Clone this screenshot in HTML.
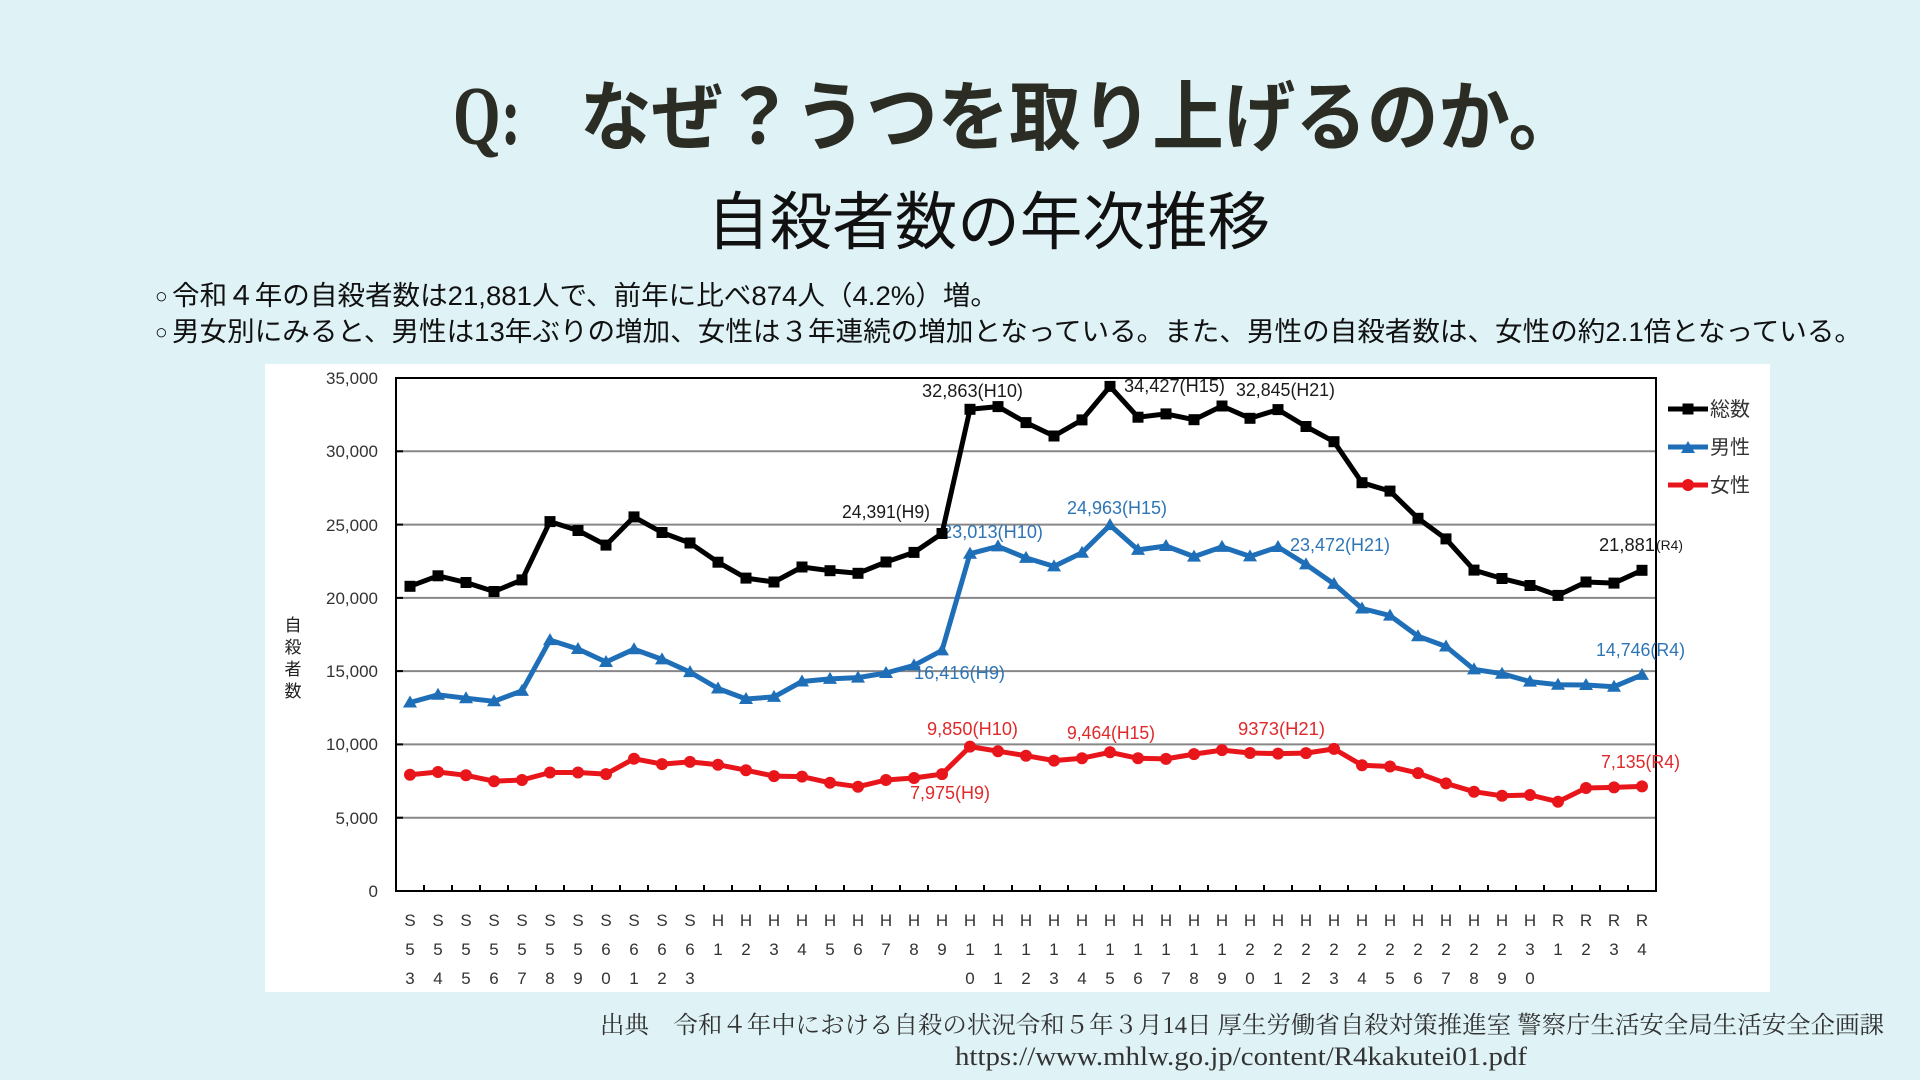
<!DOCTYPE html>
<html lang="ja">
<head>
<meta charset="utf-8">
<style>
html,body{margin:0;padding:0;background:#dff3f7;}
svg{display:block;}
</style>
</head>
<body>
<svg width="1920" height="1080" viewBox="0 0 1920 1080" xmlns="http://www.w3.org/2000/svg">
<defs>
<marker id="sq" markerWidth="12" markerHeight="12" refX="6" refY="6" markerUnits="userSpaceOnUse"><rect x="0.5" y="0.5" width="11" height="11" fill="#000"/></marker>
<marker id="tri" markerWidth="15" markerHeight="13" refX="7.5" refY="7.5" markerUnits="userSpaceOnUse"><path d="M0.5,12.5 L7.5,0.5 L14.5,12.5 Z" fill="#1f6fb8"/></marker>
<marker id="cir" markerWidth="13" markerHeight="13" refX="6.5" refY="6.5" markerUnits="userSpaceOnUse"><circle cx="6.5" cy="6.5" r="6" fill="#e8151b"/></marker>
</defs>
<rect x="0" y="0" width="1920" height="1080" fill="#dff3f7"/>

<!-- Title -->
<text x="453" y="144" font-family="'Liberation Serif', serif" font-weight="bold" font-size="84" fill="#2b2d24" textLength="68" lengthAdjust="spacingAndGlyphs">Q:</text>
<text x="580" y="144" font-family="'Liberation Sans', 'Noto Sans CJK JP', sans-serif" font-weight="bold" font-size="76" fill="#2b2d24" textLength="1000" lengthAdjust="spacingAndGlyphs">なぜ？うつを取り上げるのか。</text>

<!-- Subtitle -->
<text x="707" y="244" font-family="'Liberation Sans', 'Noto Sans CJK JP', sans-serif" font-size="63" fill="#111" textLength="563" lengthAdjust="spacingAndGlyphs">自殺者数の年次推移</text>

<!-- Body lines -->
<text x="155" y="303" font-family="'Liberation Sans', 'Noto Sans CJK JP', sans-serif" font-size="21" fill="#111">○</text>
<text x="172" y="305" font-family="'Liberation Sans', 'Noto Sans CJK JP', sans-serif" font-size="27" fill="#111" textLength="826" lengthAdjust="spacingAndGlyphs">令和４年の自殺者数は21,881人で、前年に比べ874人（4.2%）増。</text>
<text x="155" y="339" font-family="'Liberation Sans', 'Noto Sans CJK JP', sans-serif" font-size="21" fill="#111">○</text>
<text x="172" y="341" font-family="'Liberation Sans', 'Noto Sans CJK JP', sans-serif" font-size="27" fill="#111" textLength="1690" lengthAdjust="spacingAndGlyphs">男女別にみると、男性は13年ぶりの増加、女性は３年連続の増加となっている。また、男性の自殺者数は、女性の約2.1倍となっている。</text>

<!-- Chart panel -->
<rect x="265" y="364" width="1505" height="628" fill="#ffffff"/>

<!-- gridlines -->
<g stroke="#878787" stroke-width="2">
<line x1="396" y1="817.7" x2="1656" y2="817.7"/>
<line x1="396" y1="744.4" x2="1656" y2="744.4"/>
<line x1="396" y1="671.1" x2="1656" y2="671.1"/>
<line x1="396" y1="597.9" x2="1656" y2="597.9"/>
<line x1="396" y1="524.6" x2="1656" y2="524.6"/>
<line x1="396" y1="451.3" x2="1656" y2="451.3"/>
</g>
<!-- plot border -->
<rect x="396" y="378" width="1260" height="513" fill="none" stroke="#000" stroke-width="2"/>
<!-- left ticks -->
<g stroke="#000" stroke-width="2">
<line x1="396" y1="817.7" x2="403" y2="817.7"/>
<line x1="396" y1="744.4" x2="403" y2="744.4"/>
<line x1="396" y1="671.1" x2="403" y2="671.1"/>
<line x1="396" y1="597.9" x2="403" y2="597.9"/>
<line x1="396" y1="524.6" x2="403" y2="524.6"/>
<line x1="396" y1="451.3" x2="403" y2="451.3"/>
</g>
<!-- bottom ticks -->
<g stroke="#000" stroke-width="2">
<line x1="424" y1="891" x2="424" y2="885"/><line x1="452" y1="891" x2="452" y2="885"/><line x1="480" y1="891" x2="480" y2="885"/><line x1="508" y1="891" x2="508" y2="885"/><line x1="536" y1="891" x2="536" y2="885"/><line x1="564" y1="891" x2="564" y2="885"/><line x1="592" y1="891" x2="592" y2="885"/><line x1="620" y1="891" x2="620" y2="885"/><line x1="648" y1="891" x2="648" y2="885"/><line x1="676" y1="891" x2="676" y2="885"/><line x1="704" y1="891" x2="704" y2="885"/><line x1="732" y1="891" x2="732" y2="885"/><line x1="760" y1="891" x2="760" y2="885"/><line x1="788" y1="891" x2="788" y2="885"/><line x1="816" y1="891" x2="816" y2="885"/><line x1="844" y1="891" x2="844" y2="885"/><line x1="872" y1="891" x2="872" y2="885"/><line x1="900" y1="891" x2="900" y2="885"/><line x1="928" y1="891" x2="928" y2="885"/><line x1="956" y1="891" x2="956" y2="885"/><line x1="984" y1="891" x2="984" y2="885"/><line x1="1012" y1="891" x2="1012" y2="885"/><line x1="1040" y1="891" x2="1040" y2="885"/><line x1="1068" y1="891" x2="1068" y2="885"/><line x1="1096" y1="891" x2="1096" y2="885"/><line x1="1124" y1="891" x2="1124" y2="885"/><line x1="1152" y1="891" x2="1152" y2="885"/><line x1="1180" y1="891" x2="1180" y2="885"/><line x1="1208" y1="891" x2="1208" y2="885"/><line x1="1236" y1="891" x2="1236" y2="885"/><line x1="1264" y1="891" x2="1264" y2="885"/><line x1="1292" y1="891" x2="1292" y2="885"/><line x1="1320" y1="891" x2="1320" y2="885"/><line x1="1348" y1="891" x2="1348" y2="885"/><line x1="1376" y1="891" x2="1376" y2="885"/><line x1="1404" y1="891" x2="1404" y2="885"/><line x1="1432" y1="891" x2="1432" y2="885"/><line x1="1460" y1="891" x2="1460" y2="885"/><line x1="1488" y1="891" x2="1488" y2="885"/><line x1="1516" y1="891" x2="1516" y2="885"/><line x1="1544" y1="891" x2="1544" y2="885"/><line x1="1572" y1="891" x2="1572" y2="885"/><line x1="1600" y1="891" x2="1600" y2="885"/><line x1="1628" y1="891" x2="1628" y2="885"/>
</g>

<!-- y tick labels -->
<g font-family="'Liberation Sans', sans-serif" font-size="17" fill="#333" text-anchor="end">
<text x="378" y="384">35,000</text>
<text x="378" y="457">30,000</text>
<text x="378" y="531">25,000</text>
<text x="378" y="604">20,000</text>
<text x="378" y="677">15,000</text>
<text x="378" y="750">10,000</text>
<text x="378" y="824">5,000</text>
<text x="378" y="897">0</text>
</g>

<!-- y axis title -->
<g font-family="'Liberation Sans', 'Noto Sans CJK JP', sans-serif" font-size="17" fill="#222" text-anchor="middle">
<text x="293" y="631">自</text>
<text x="293" y="653">殺</text>
<text x="293" y="675">者</text>
<text x="293" y="697">数</text>
</g>

<!-- x labels -->
<g font-family="'Liberation Sans', sans-serif" font-size="17" fill="#333" text-anchor="middle">
<text y="926" x="410 438 466 494 522 550 578 606 634 662 690 718 746 774 802 830 858 886 914 942 970 998 1026 1054 1082 1110 1138 1166 1194 1222 1250 1278 1306 1334 1362 1390 1418 1446 1474 1502 1530 1558 1586 1614 1642">SSSSSSSSSSSHHHHHHHHHHHHHHHHHHHHHHHHHHHHHHRRRR</text>
<text y="955" x="410 438 466 494 522 550 578 606 634 662 690 718 746 774 802 830 858 886 914 942 970 998 1026 1054 1082 1110 1138 1166 1194 1222 1250 1278 1306 1334 1362 1390 1418 1446 1474 1502 1530 1558 1586 1614 1642">555555566661234567891111111111222222222231234</text>
<text y="984" x="410 438 466 494 522 550 578 606 634 662 690">34567890123</text>
<text y="984" x="970 998 1026 1054 1082 1110 1138 1166 1194 1222 1250 1278 1306 1334 1362 1390 1418 1446 1474 1502 1530">012345678901234567890</text>
</g>

<!-- annotations -->
<g font-family="'Liberation Sans', sans-serif" font-size="18">
<text x="842" y="518" fill="#1a1a1a" textLength="88" lengthAdjust="spacingAndGlyphs">24,391(H9)</text>
<text x="922" y="397" fill="#1a1a1a" textLength="101" lengthAdjust="spacingAndGlyphs">32,863(H10)</text>
<text x="1124" y="392" fill="#1a1a1a" textLength="101" lengthAdjust="spacingAndGlyphs">34,427(H15)</text>
<text x="1236" y="396" fill="#1a1a1a" textLength="99" lengthAdjust="spacingAndGlyphs">32,845(H21)</text>
<text x="1599" y="551" fill="#1a1a1a" textLength="56" lengthAdjust="spacingAndGlyphs">21,881</text>
<text x="1656" y="550" fill="#1a1a1a" font-size="14" textLength="27" lengthAdjust="spacingAndGlyphs">(R4)</text>

<text x="942" y="538" fill="#2e75b6" textLength="101" lengthAdjust="spacingAndGlyphs">23,013(H10)</text>
<text x="1067" y="514" fill="#2e75b6" textLength="100" lengthAdjust="spacingAndGlyphs">24,963(H15)</text>
<text x="1290" y="551" fill="#2e75b6" textLength="100" lengthAdjust="spacingAndGlyphs">23,472(H21)</text>
<text x="914" y="679" fill="#2e75b6" textLength="91" lengthAdjust="spacingAndGlyphs">16,416(H9)</text>
<text x="1596" y="656" fill="#2e75b6" textLength="89" lengthAdjust="spacingAndGlyphs">14,746(R4)</text>

<text x="927" y="735" fill="#e0292b" textLength="91" lengthAdjust="spacingAndGlyphs">9,850(H10)</text>
<text x="1067" y="739" fill="#e0292b" textLength="88" lengthAdjust="spacingAndGlyphs">9,464(H15)</text>
<text x="1238" y="735" fill="#e0292b" textLength="87" lengthAdjust="spacingAndGlyphs">9373(H21)</text>
<text x="1601" y="768" fill="#e0292b" textLength="79" lengthAdjust="spacingAndGlyphs">7,135(R4)</text>
<text x="910" y="799" fill="#e0292b" textLength="80" lengthAdjust="spacingAndGlyphs">7,975(H9)</text>
</g>

<!-- series -->
<polyline fill="none" stroke="#e8151b" stroke-width="5" stroke-linejoin="round" stroke-linecap="round" marker-start="url(#cir)" marker-mid="url(#cir)" marker-end="url(#cir)"
points="410,774.8 438,772.0 466,775.3 494,781.2 522,780.0 550,772.5 578,772.5 606,774.1 634,758.7 662,764.1 690,761.9 718,764.7 746,770.2 774,776.1 802,776.6 830,782.8 858,786.7 886,780.0 914,778.0 942,774.1 970,746.6 998,751.2 1026,755.7 1054,760.6 1082,758.2 1110,752.3 1138,758.3 1166,758.9 1194,754.1 1222,750.1 1250,753.0 1278,753.6 1306,753.1 1334,748.9 1362,765.2 1390,766.5 1418,773.1 1446,783.4 1474,791.7 1502,795.8 1530,795.0 1558,801.7 1586,788.0 1614,787.4 1642,786.4"/>
<polyline fill="none" stroke="#1f6fb8" stroke-width="5" stroke-linejoin="round" stroke-linecap="round" marker-start="url(#tri)" marker-mid="url(#tri)" marker-end="url(#tri)"
points="410,702.5 438,694.8 466,698.2 494,701.3 522,690.9 550,640.1 578,649.0 606,662.0 634,649.2 662,659.4 690,672.1 718,688.5 746,699.0 774,696.9 802,681.5 830,678.9 858,677.6 886,673.0 914,665.4 942,650.4 970,553.7 998,546.4 1026,557.9 1054,566.4 1082,552.7 1110,525.1 1138,549.9 1166,546.0 1194,556.6 1222,546.9 1250,556.4 1278,547.0 1306,564.4 1334,583.9 1362,608.5 1390,615.6 1418,636.2 1446,646.5 1474,669.4 1502,673.7 1530,681.6 1558,684.7 1586,685.0 1614,686.7 1642,674.9"/>
<polyline fill="none" stroke="#000" stroke-width="5" stroke-linejoin="round" stroke-linecap="round" marker-start="url(#sq)" marker-mid="url(#sq)" marker-end="url(#sq)"
points="410,586.3 438,575.8 466,582.5 494,591.5 522,579.9 550,521.6 578,530.5 606,545.1 634,516.9 662,532.5 690,543.0 718,562.2 746,578.1 774,582.0 802,567.0 830,570.7 858,573.3 886,562.0 914,552.4 942,533.5 970,409.3 998,406.6 1026,422.6 1054,436.0 1082,419.9 1110,386.4 1138,417.2 1166,413.9 1194,419.7 1222,406.0 1250,418.3 1278,409.6 1306,426.5 1334,441.7 1362,482.7 1390,491.1 1418,518.3 1446,538.9 1474,570.1 1502,578.5 1530,585.5 1558,595.4 1586,582.0 1614,583.1 1642,570.3"/>

<!-- legend -->
<line x1="1668" y1="409" x2="1708" y2="409" stroke="#000" stroke-width="5"/>
<rect x="1682.5" y="403.5" width="11" height="11" fill="#000"/>
<line x1="1668" y1="447" x2="1708" y2="447" stroke="#1f6fb8" stroke-width="5"/>
<path d="M1681,453 L1688,441 L1695,453 Z" fill="#1f6fb8"/>
<line x1="1668" y1="485" x2="1708" y2="485" stroke="#e8151b" stroke-width="5"/>
<circle cx="1688" cy="485" r="6" fill="#e8151b"/>
<g font-family="'Liberation Sans', 'Noto Sans CJK JP', sans-serif" font-size="20" fill="#333">
<text x="1710" y="416" textLength="40" lengthAdjust="spacingAndGlyphs">総数</text>
<text x="1710" y="454" textLength="40" lengthAdjust="spacingAndGlyphs">男性</text>
<text x="1710" y="492" textLength="40" lengthAdjust="spacingAndGlyphs">女性</text>
</g>

<!-- citation -->
<text x="600" y="1033" font-family="'Liberation Serif', 'Noto Serif CJK JP', serif" font-size="24" fill="#333" textLength="1284" lengthAdjust="spacingAndGlyphs">出典　令和４年中における自殺の状況令和５年３月14日 厚生労働省自殺対策推進室 警察庁生活安全局生活安全企画課</text>
<text x="955" y="1065" font-family="'Liberation Serif', serif" font-size="26" fill="#333" textLength="572" lengthAdjust="spacingAndGlyphs">https://www.mhlw.go.jp/content/R4kakutei01.pdf</text>
</svg>
</body>
</html>
